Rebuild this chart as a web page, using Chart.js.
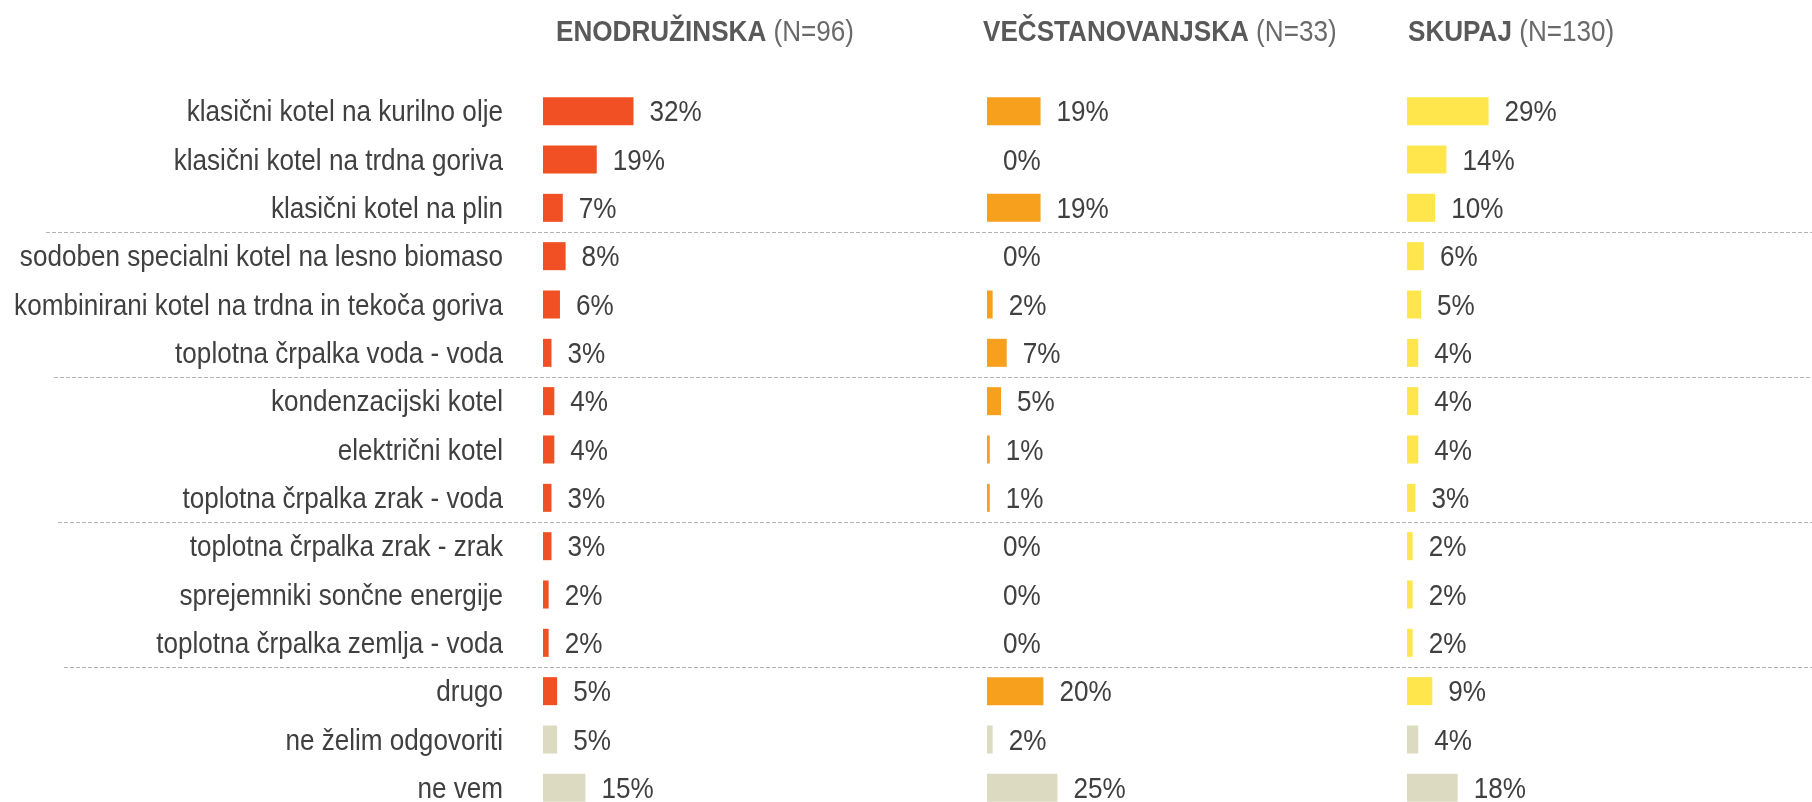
<!DOCTYPE html>
<html>
<head>
<meta charset="utf-8">
<script src="https://cdn.jsdelivr.net/npm/chart.js@4.4.1/dist/chart.umd.min.js"></script>
<style>
  html, body { margin: 0; padding: 0; background: #fff; overflow: hidden; }
  #wrap { position: relative; width: 1812px; height: 802px; overflow: hidden; }
  #wrap canvas { position: absolute; left: 0; top: 0; }
</style>
</head>
<body>
<div id="wrap"><canvas id="chart" width="1812" height="830"></canvas></div>
<script>
const categories = [
  'klasični kotel na kurilno olje',
  'klasični kotel na trdna goriva',
  'klasični kotel na plin',
  'sodoben specialni kotel na lesno biomaso',
  'kombinirani kotel na trdna in tekoča goriva',
  'toplotna črpalka voda - voda',
  'kondenzacijski kotel',
  'električni kotel',
  'toplotna črpalka zrak - voda',
  'toplotna črpalka zrak - zrak',
  'sprejemniki sončne energije',
  'toplotna črpalka zemlja - voda',
  'drugo',
  'ne želim odgovoriti',
  'ne vem'
];
const enodruzinska = [32, 19, 7, 8, 6, 3, 4, 4, 3, 3, 2, 2, 5, 5, 15];
const vecstanovanjska = [19, 0, 19, 0, 2, 7, 5, 1, 1, 0, 0, 0, 20, 2, 25];
const skupaj = [29, 14, 10, 6, 5, 4, 4, 4, 3, 2, 2, 2, 9, 4, 18];
const groupTitles = ['ENODRUŽINSKA', 'VEČSTANOVANJSKA', 'SKUPAJ'];
const groupSizes = ['(N=96)', '(N=33)', '(N=130)'];
// dashed line drawn below these rows
const groupBreaks = [2, 5, 8, 11];
const neutralRows = ['ne želim odgovoriti', 'ne vem'];

const FONT = "'Liberation Sans', Arial, sans-serif";
const SQUEEZE = 0.9; // no narrow face installed, so text is condensed by hand
const TEXT = '#404040';
const colors = ['#F05023', '#F7A01E', '#FFE64C'];
const neutral = '#DCDAC0';

Chart.defaults.font.family = FONT;
Chart.defaults.color = TEXT;

const barColors = (color) => categories.map((c) => neutralRows.includes(c) ? neutral : color);

function narrowText(ctx, text, x, y, align) {
  ctx.save();
  ctx.translate(x, y + 2);
  ctx.scale(SQUEEZE, 1);
  ctx.textAlign = align;
  ctx.fillText(text, 0, 0);
  const w = ctx.measureText(text).width * SQUEEZE;
  ctx.restore();
  return w;
}

const overlay = {
  id: 'overlay',
  beforeDatasetsDraw(chart) {
    const ctx = chart.ctx;
    const y = chart.scales.y;
    const starts = [46, 54, 58, 64];
    ctx.save();
    ctx.strokeStyle = '#b4b4b4';
    ctx.lineWidth = 1;
    ctx.setLineDash([4, 2]);
    groupBreaks.forEach((row, i) => {
      const py = Math.round((y.getPixelForValue(row) + y.getPixelForValue(row + 1)) / 2) + 0.5;
      ctx.beginPath();
      ctx.moveTo(starts[i], py);
      ctx.lineTo(chart.width, py);
      ctx.stroke();
    });
    ctx.restore();
  },
  afterDatasetsDraw(chart) {
    const ctx = chart.ctx;
    const y = chart.scales.y;
    ctx.save();
    ctx.fillStyle = TEXT;
    ctx.font = '29px ' + FONT;
    ctx.textBaseline = 'middle';

    // category labels
    categories.forEach((label, i) => {
      narrowText(ctx, label, y.right - 40, y.getPixelForValue(i), 'right');
    });

    // value labels
    chart.data.datasets.forEach((ds, di) => {
      chart.getDatasetMeta(di).data.forEach((bar, i) => {
        narrowText(ctx, ds.data[i] + '%', bar.x + 16, bar.y, 'left');
      });
    });

    // column headers
    const shift = [13, -4, 1];
    ['x0', 'x1', 'x2'].forEach((id, i) => {
      const sc = chart.scales[id];
      let x = sc.left + shift[i];
      ctx.font = 'bold 29px ' + FONT;
      ctx.fillStyle = '#595959';
      x += narrowText(ctx, groupTitles[i] + ' ', x, 31, 'left');
      ctx.font = '29px ' + FONT;
      ctx.fillStyle = '#6a6a6a';
      narrowText(ctx, groupSizes[i], x, 31, 'left');
    });
    ctx.restore();
  }
};

const series = [enodruzinska, vecstanovanjska, skupaj];

new Chart(document.getElementById('chart'), {
  type: 'bar',
  data: {
    labels: categories,
    datasets: series.map((values, i) => ({
      label: groupTitles[i],
      data: values,
      xAxisID: 'x' + i,
      backgroundColor: barColors(colors[i]),
      grouped: false,
      categoryPercentage: 1,
      barPercentage: 0.58
    }))
  },
  options: {
    indexAxis: 'y',
    responsive: false,
    animation: false,
    layout: { padding: { top: 87, bottom: 18, left: 0, right: 0 } },
    plugins: {
      legend: { display: false },
      tooltip: { enabled: false }
    },
    scales: {
      y: {
        type: 'category',
        position: 'left',
        grid: { display: false, drawTicks: false },
        border: { display: false },
        ticks: { display: false },
        afterFit(scale) { scale.width = 543; }
      },
      x0: { type: 'linear', axis: 'x', position: 'bottom', stack: 'cols', stackWeight: 444, min: 0, max: 157, display: false },
      x1: { type: 'linear', axis: 'x', position: 'bottom', stack: 'cols', stackWeight: 420, min: 0, max: 149, display: false },
      x2: { type: 'linear', axis: 'x', position: 'bottom', stack: 'cols', stackWeight: 405, min: 0, max: 144, display: false }
    }
  },
  plugins: [overlay]
});
</script>
</body>
</html>
